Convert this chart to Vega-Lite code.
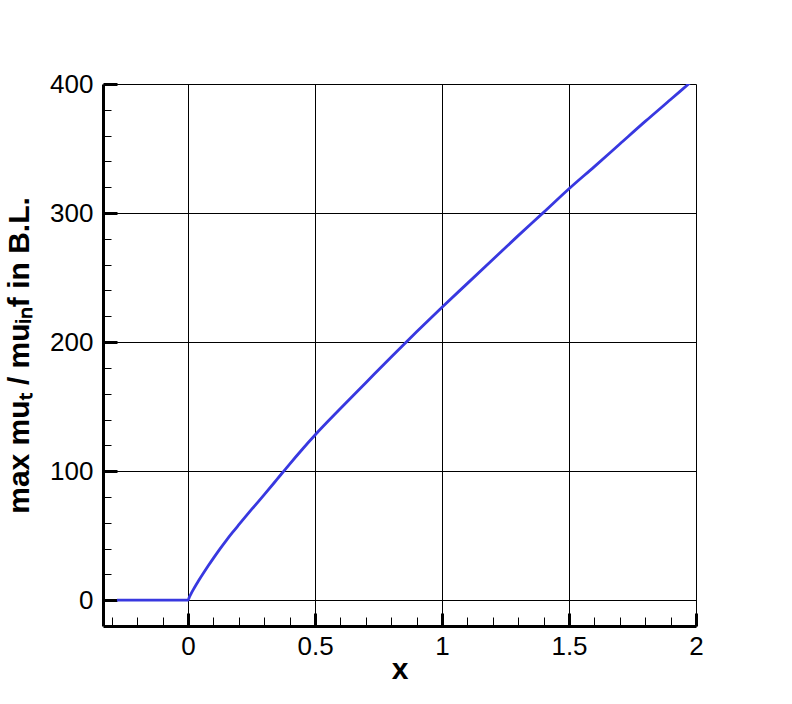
{
  "$schema": "https://vega.github.io/schema/vega-lite/v6.json",
  "autosize": "none",
  "width": 593,
  "height": 542,
  "padding": {"left": 103, "top": 84, "right": 96, "bottom": 78},
  "background": "white",
  "view": {"stroke": null},
  "config": {
    "font": "Liberation Sans",
    "axis": {
      "labelFont": "Liberation Sans",
      "labelFontSize": 26,
      "labelColor": "black",
      "titleFont": "Liberation Sans",
      "titleFontWeight": "bold",
      "titleFontSize": 30,
      "titleColor": "black",
      "domainColor": "black",
      "domainWidth": 3,
      "tickColor": "black",
      "gridColor": "black",
      "gridWidth": 1,
      "labelOverlap": false,
      "labelFlush": false
    }
  },
  "data": {
    "values": [
      {"x": -0.28, "y": 0},
      {"x": 0, "y": 0},
      {"x": 0.005, "y": 2.4},
      {"x": 0.01, "y": 4.3},
      {"x": 0.02, "y": 8},
      {"x": 0.03, "y": 11.4},
      {"x": 0.04, "y": 14.6},
      {"x": 0.06, "y": 20.8},
      {"x": 0.08, "y": 26.8},
      {"x": 0.1, "y": 32.6},
      {"x": 0.125, "y": 39.6},
      {"x": 0.15, "y": 46.2},
      {"x": 0.175, "y": 52.5},
      {"x": 0.2, "y": 58.5},
      {"x": 0.25, "y": 70.3},
      {"x": 0.3, "y": 81.8},
      {"x": 0.35, "y": 93.6},
      {"x": 0.4, "y": 105.5},
      {"x": 0.45, "y": 117},
      {"x": 0.5, "y": 128},
      {"x": 0.6, "y": 148.5},
      {"x": 0.7, "y": 168.5},
      {"x": 0.8, "y": 188.5},
      {"x": 0.9, "y": 208},
      {"x": 1.0, "y": 227},
      {"x": 1.1, "y": 245.5},
      {"x": 1.2, "y": 264},
      {"x": 1.3, "y": 282.5},
      {"x": 1.4, "y": 300.5},
      {"x": 1.5, "y": 318.8},
      {"x": 1.6, "y": 336},
      {"x": 1.7, "y": 353.5},
      {"x": 1.8, "y": 371},
      {"x": 1.9, "y": 388},
      {"x": 2.0, "y": 405}
    ]
  },
  "mark": {"type": "line", "color": "#3838e0", "strokeWidth": 2.8, "clip": true, "interpolate": "monotone"},
  "encoding": {
    "x": {
      "field": "x",
      "type": "quantitative",
      "scale": {"domain": [-0.335, 2], "nice": false, "zero": false},
      "axis": {
        "title": "x",
        "values": [-0.3, -0.2, -0.1, 0, 0.1, 0.2, 0.3, 0.4, 0.5, 0.6, 0.7, 0.8, 0.9, 1, 1.1, 1.2, 1.3, 1.4, 1.5, 1.6, 1.7, 1.8, 1.9, 2],
        "format": "~g",
        "labelExpr": "abs(round(datum.value*10)) % 5 === 0 ? datum.label : ''",
        "tickSize": {"condition": {"test": "abs(round(datum.value*10)) % 5 === 0", "value": -13}, "value": -9},
        "tickWidth": {"condition": {"test": "abs(round(datum.value*10)) % 5 === 0", "value": 3}, "value": 1},
        "gridOpacity": {"condition": {"test": "abs(round(datum.value*10)) % 5 === 0", "value": 1}, "value": 0},
        "labelPadding": 20,
        "titlePadding": -9
      }
    },
    "y": {
      "field": "y",
      "type": "quantitative",
      "scale": {"domain": [-20, 400], "nice": false, "zero": false},
      "axis": {
        "title": "max muₜ / muᵢₙf in B.L.",
        "values": [0, 20, 40, 60, 80, 100, 120, 140, 160, 180, 200, 220, 240, 260, 280, 300, 320, 340, 360, 380, 400],
        "labelExpr": "datum.value % 100 === 0 ? datum.label : ''",
        "tickSize": {"condition": {"test": "datum.value % 100 === 0", "value": -14}, "value": -8},
        "tickWidth": {"condition": {"test": "datum.value % 100 === 0", "value": 3}, "value": 1},
        "gridOpacity": {"condition": {"test": "datum.value % 100 === 0", "value": 1}, "value": 0},
        "labelPadding": 24,
        "titlePadding": 15
      }
    }
  }
}
